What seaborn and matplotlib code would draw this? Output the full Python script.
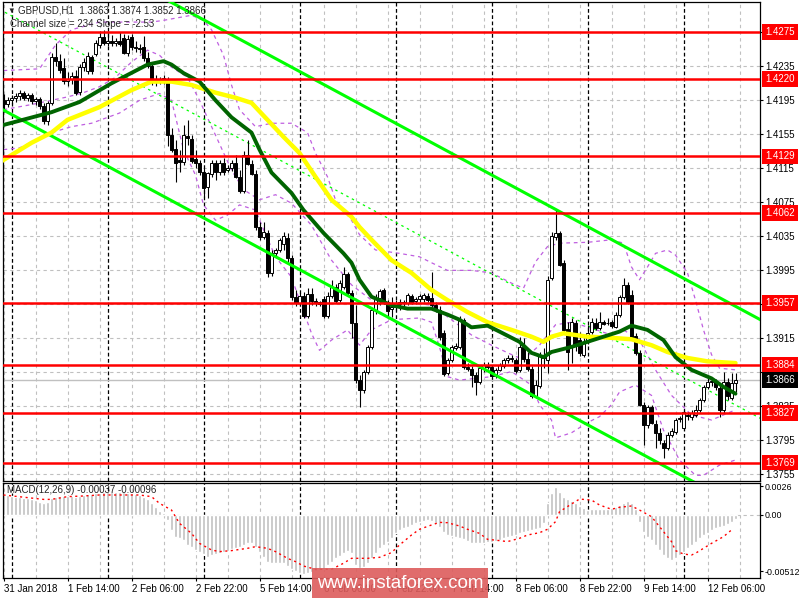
import numpy as np
import pandas as pd
import matplotlib
matplotlib.use("Agg")
import matplotlib.pyplot as plt
import matplotlib.transforms as mtransforms
from matplotlib.patches import Rectangle
import seaborn as sns

sns.set_style("white")
plt.rcParams["font.family"] = ["Liberation Sans", "DejaVu Sans"]
plt.rcParams["font.size"] = 7
plt.rcParams["axes.unicode_minus"] = False

# GBPUSD H1, bar 0 = 1 Feb 2018 00:00 (weekend hours skipped), first bar = 31 Jan 22:00
FIRST_BAR = -2
OPEN = [1.4195, 1.4191, 1.4195, 1.4198, 1.4200, 1.4204, 1.4198, 1.4201, 1.4194, 1.4197, 1.4188, 1.4171,
        1.4192, 1.4246, 1.4241, 1.4233, 1.4218, 1.4220, 1.4224, 1.4205, 1.4234, 1.4230,
        1.4246, 1.4250, 1.4260, 1.4269, 1.4262, 1.4265, 1.4262, 1.4265, 1.4268, 1.4251,
        1.4269, 1.4258, 1.4257, 1.4258, 1.4245, 1.4235, 1.4217, 1.4219, 1.4219, 1.4220,
        1.4154, 1.4138, 1.4125, 1.4122, 1.4153, 1.4150, 1.4126, 1.4121, 1.4111, 1.4093,
        1.4108, 1.4121, 1.4111, 1.4121, 1.4113, 1.4115, 1.4121, 1.4105, 1.4088, 1.4131,
        1.4120, 1.4108, 1.4046, 1.4034, 1.4039, 1.3992, 1.4016, 1.4019, 1.4026, 1.4033,
        1.4010, 1.3964, 1.3957, 1.3965, 1.3941, 1.3967, 1.3959, 1.3956, 1.3961, 1.3941,
        1.3965, 1.3976, 1.3960, 1.3976, 1.3991, 1.3968, 1.3933, 1.3866, 1.3854, 1.3876,
        1.3905, 1.3948, 1.3963, 1.3972, 1.3958, 1.3950, 1.3952, 1.3956, 1.3958, 1.3957,
        1.3965, 1.3959, 1.3961, 1.3961, 1.3965, 1.3963, 1.3954, 1.3948, 1.3921, 1.3874,
        1.3890, 1.3904, 1.3905, 1.3937, 1.3881, 1.3879, 1.3872, 1.3864, 1.3880, 1.3883,
        1.3881, 1.3871, 1.3878, 1.3883, 1.3890, 1.3891, 1.3890, 1.3878, 1.3905, 1.3891,
        1.3879, 1.3847, 1.3859, 1.3896, 1.3890, 1.3986, 1.4034, 1.4039, 1.4004, 1.3926,
        1.3905, 1.3933, 1.3913, 1.3896, 1.3911, 1.3923, 1.3933, 1.3927, 1.3934, 1.3933,
        1.3934, 1.3928, 1.3943, 1.3964, 1.3978, 1.3966, 1.3918, 1.3898, 1.3837, 1.3813,
        1.3834, 1.3814, 1.3804, 1.3792, 1.3786, 1.3801, 1.3805, 1.3820, 1.3810, 1.3825,
        1.3823, 1.3825, 1.3831, 1.3843, 1.3858, 1.3864, 1.3865, 1.3857, 1.3831, 1.3864,
        1.3845, 1.3863]
HIGH = [1.4202, 1.4199, 1.4201, 1.4204, 1.4207, 1.4206, 1.4204, 1.4204, 1.4199, 1.4199, 1.4192, 1.4194,
        1.4251, 1.4262, 1.4250, 1.4245, 1.4228, 1.4228, 1.4231, 1.4238, 1.4245, 1.4252,
        1.4248, 1.4266, 1.4277, 1.4278, 1.4277, 1.4272, 1.4268, 1.4275, 1.4273, 1.4272,
        1.4273, 1.4265, 1.4261, 1.4271, 1.4252, 1.4240, 1.4225, 1.4222, 1.4225, 1.4222,
        1.4162, 1.4148, 1.4137, 1.4166, 1.4172, 1.4154, 1.4137, 1.4125, 1.4115, 1.4111,
        1.4125, 1.4125, 1.4125, 1.4127, 1.4119, 1.4125, 1.4131, 1.4113, 1.4135, 1.4148,
        1.4125, 1.4113, 1.4052, 1.4052, 1.4043, 1.4019, 1.4021, 1.4033, 1.4040, 1.4039,
        1.4013, 1.3972, 1.3968, 1.3970, 1.3974, 1.3974, 1.3963, 1.3959, 1.3965, 1.3970,
        1.3984, 1.3979, 1.3984, 1.3999, 1.3993, 1.3972, 1.3954, 1.3872, 1.3878, 1.3907,
        1.3951, 1.3967, 1.3973, 1.3974, 1.3960, 1.3964, 1.3960, 1.3961, 1.3960, 1.3968,
        1.3967, 1.3964, 1.3967, 1.3968, 1.3968, 1.3993, 1.3958, 1.3953, 1.3925, 1.3892,
        1.3907, 1.3910, 1.3941, 1.3939, 1.3886, 1.3883, 1.3876, 1.3883, 1.3887, 1.3887,
        1.3884, 1.3880, 1.3886, 1.3892, 1.3896, 1.3896, 1.3892, 1.3917, 1.3916, 1.3899,
        1.3883, 1.3866, 1.3899, 1.3904, 1.3988, 1.4040, 1.4066, 1.4041, 1.4007, 1.3934,
        1.3939, 1.3937, 1.3923, 1.3916, 1.3931, 1.3939, 1.3939, 1.3946, 1.3937, 1.3939,
        1.3937, 1.3946, 1.3966, 1.3986, 1.3981, 1.3972, 1.3921, 1.3901, 1.3840, 1.3837,
        1.3837, 1.3819, 1.3810, 1.3796, 1.3805, 1.3810, 1.3821, 1.3824, 1.3831, 1.3828,
        1.3831, 1.3837, 1.3845, 1.3860, 1.3868, 1.3868, 1.3867, 1.3860, 1.3876, 1.3868,
        1.3874, 1.3874]
LOW = [1.4181, 1.4187, 1.4191, 1.4193, 1.4195, 1.4195, 1.4194, 1.4191, 1.4190, 1.4185, 1.4167, 1.4166,
       1.4190, 1.4235, 1.4227, 1.4214, 1.4212, 1.4214, 1.4201, 1.4201, 1.4230, 1.4226,
       1.4226, 1.4247, 1.4257, 1.4260, 1.4259, 1.4259, 1.4259, 1.4259, 1.4250, 1.4247,
       1.4254, 1.4252, 1.4251, 1.4241, 1.4233, 1.4213, 1.4212, 1.4214, 1.4214, 1.4141,
       1.4134, 1.4099, 1.4111, 1.4119, 1.4142, 1.4121, 1.4115, 1.4107, 1.4081, 1.4080,
       1.4105, 1.4101, 1.4107, 1.4107, 1.4111, 1.4112, 1.4104, 1.4086, 1.4086, 1.4119,
       1.4107, 1.4043, 1.4031, 1.4032, 1.3987, 1.3988, 1.4012, 1.4017, 1.4019, 1.4005,
       1.3960, 1.3953, 1.3953, 1.3939, 1.3939, 1.3954, 1.3953, 1.3953, 1.3939, 1.3939,
       1.3963, 1.3957, 1.3958, 1.3973, 1.3966, 1.3916, 1.3863, 1.3834, 1.3851, 1.3873,
       1.3903, 1.3944, 1.3954, 1.3956, 1.3940, 1.3940, 1.3947, 1.3948, 1.3953, 1.3954,
       1.3956, 1.3956, 1.3958, 1.3958, 1.3958, 1.3952, 1.3946, 1.3913, 1.3871, 1.3872,
       1.3887, 1.3901, 1.3903, 1.3879, 1.3877, 1.3858, 1.3848, 1.3861, 1.3876, 1.3879,
       1.3868, 1.3868, 1.3877, 1.3880, 1.3886, 1.3887, 1.3874, 1.3876, 1.3887, 1.3877,
       1.3845, 1.3845, 1.3857, 1.3880, 1.3874, 1.3984, 1.4031, 1.4000, 1.3924, 1.3878,
       1.3886, 1.3900, 1.3894, 1.3893, 1.3908, 1.3920, 1.3925, 1.3925, 1.3931, 1.3931,
       1.3927, 1.3927, 1.3940, 1.3961, 1.3956, 1.3913, 1.3896, 1.3836, 1.3790, 1.3810,
       1.3814, 1.3786, 1.3791, 1.3774, 1.3784, 1.3799, 1.3803, 1.3817, 1.3807, 1.3819,
       1.3819, 1.3823, 1.3828, 1.3840, 1.3856, 1.3859, 1.3854, 1.3823, 1.3827, 1.3843,
       1.3843, 1.3852]
CLOSE = [1.4191, 1.4195, 1.4198, 1.4200, 1.4204, 1.4198, 1.4201, 1.4194, 1.4197, 1.4188, 1.4171, 1.4192,
         1.4246, 1.4241, 1.4231, 1.4218, 1.4220, 1.4224, 1.4204, 1.4234, 1.4240, 1.4247,
         1.4230, 1.4262, 1.4269, 1.4262, 1.4265, 1.4262, 1.4265, 1.4261, 1.4251, 1.4267,
         1.4258, 1.4257, 1.4255, 1.4245, 1.4235, 1.4217, 1.4220, 1.4220, 1.4221, 1.4154,
         1.4137, 1.4121, 1.4122, 1.4154, 1.4151, 1.4124, 1.4121, 1.4111, 1.4092, 1.4110,
         1.4121, 1.4111, 1.4121, 1.4111, 1.4115, 1.4121, 1.4105, 1.4088, 1.4131, 1.4120,
         1.4108, 1.4046, 1.4034, 1.4040, 1.3992, 1.4016, 1.4019, 1.4031, 1.4035, 1.4010,
         1.3964, 1.3957, 1.3965, 1.3941, 1.3967, 1.3959, 1.3957, 1.3958, 1.3941, 1.3965,
         1.3976, 1.3959, 1.3980, 1.3991, 1.3968, 1.3933, 1.3866, 1.3854, 1.3876, 1.3905,
         1.3948, 1.3963, 1.3971, 1.3958, 1.3947, 1.3952, 1.3957, 1.3958, 1.3957, 1.3966,
         1.3958, 1.3961, 1.3965, 1.3966, 1.3960, 1.3954, 1.3948, 1.3917, 1.3873, 1.3890,
         1.3905, 1.3906, 1.3937, 1.3881, 1.3879, 1.3872, 1.3864, 1.3880, 1.3884, 1.3881,
         1.3871, 1.3878, 1.3884, 1.3890, 1.3892, 1.3892, 1.3877, 1.3905, 1.3891, 1.3879,
         1.3847, 1.3860, 1.3896, 1.3892, 1.3984, 1.4035, 1.4039, 1.4001, 1.3925, 1.3899,
         1.3934, 1.3907, 1.3898, 1.3911, 1.3921, 1.3934, 1.3927, 1.3934, 1.3932, 1.3933,
         1.3930, 1.3943, 1.3964, 1.3978, 1.3958, 1.3916, 1.3898, 1.3837, 1.3813, 1.3834,
         1.3816, 1.3804, 1.3796, 1.3786, 1.3801, 1.3806, 1.3819, 1.3821, 1.3828, 1.3824,
         1.3827, 1.3831, 1.3843, 1.3858, 1.3864, 1.3865, 1.3858, 1.3831, 1.3864, 1.3847,
         1.3863, 1.3866]

# moving averages (read at sparse bars)
GREEN_BARS = [-2, 10, 17, 25, 34, 38, 40, 43, 47, 51, 55, 60, 62, 65, 70, 73, 78, 83, 85, 87,
              90, 95, 99, 105, 109, 112, 115, 119, 122, 127, 130, 133, 135, 140, 144, 148, 152,
              155, 159, 163, 166, 170, 175, 178, 181]
GREEN_VALS = [1.4166, 1.4181, 1.4193, 1.4215, 1.4237, 1.4241, 1.4237, 1.4227, 1.4217, 1.4195,
              1.4175, 1.4157, 1.4137, 1.4110, 1.4086, 1.4066, 1.4039, 1.4015, 1.4004, 1.3984,
              1.3964, 1.3954, 1.3950, 1.3950, 1.3943, 1.3937, 1.3928, 1.3930, 1.3923, 1.3911,
              1.3898, 1.3893, 1.3899, 1.3905, 1.3911, 1.3917, 1.3923, 1.3930, 1.3925, 1.3913,
              1.3893, 1.3878, 1.3868, 1.3858, 1.3850]
YELLOW_BARS = [-3, 5, 10, 14, 22, 30, 35, 40, 45, 51, 56, 60, 64, 68, 72, 76, 80, 85, 87, 90,
               95, 100, 105, 109, 114, 119, 125, 130, 133, 135, 138, 144, 149, 155, 160, 164,
               169, 174, 181]
YELLOW_VALS = [1.4122, 1.4145, 1.4157, 1.4172, 1.4187, 1.4207, 1.4217, 1.4217, 1.4213, 1.4204,
               1.4198, 1.4192, 1.4172, 1.4152, 1.4133, 1.4105, 1.4078, 1.4058, 1.4046, 1.4031,
               1.4007, 1.3992, 1.3972, 1.3960, 1.3946, 1.3934, 1.3925, 1.3917, 1.3911, 1.3917,
               1.3921, 1.3917, 1.3916, 1.3914, 1.3907, 1.3899, 1.3892, 1.3888, 1.3886]

# bollinger-style purple bands
UP_BARS = [-2, 7, 11, 15, 22, 30, 35, 38, 45, 48, 50, 53, 55, 57, 61, 65, 70, 74, 76, 79,
           81, 85, 87, 91, 97, 102, 105, 109, 115, 120, 125, 128, 131, 134, 137, 144, 150,
           153, 155, 157, 159, 161, 164, 166, 169, 171, 173, 175, 177, 181]
UP_VALS = [1.4230, 1.4232, 1.4260, 1.4278, 1.4287, 1.4287, 1.4287, 1.4289, 1.4295, 1.4289,
           1.4278, 1.4248, 1.4213, 1.4184, 1.4164, 1.4168, 1.4168, 1.4157, 1.4133, 1.4105,
           1.4078, 1.4054, 1.4037, 1.4019, 1.4015, 1.4011, 1.4004, 1.3995, 1.3995, 1.3992,
           1.3980, 1.3974, 1.4005, 1.4023, 1.4027, 1.4028, 1.4031, 1.4027, 1.3999, 1.3984,
           1.3999, 1.4015, 1.4019, 1.4013, 1.3992, 1.3960, 1.3925, 1.3896, 1.3880, 1.3878]
MID_BARS = [-2, 5, 10, 14, 18, 22, 26, 30, 34, 37, 40, 44, 47, 51, 55, 58, 62, 66, 70, 75,
            80, 85, 90, 95, 100, 105, 110, 115, 120, 125, 128, 132, 136, 140, 145, 150, 153,
            157, 161, 165, 170, 175, 181]
MID_VALS = [1.4184, 1.4190, 1.4195, 1.4199, 1.4204, 1.4211, 1.4222, 1.4240, 1.4254, 1.4248,
            1.4234, 1.4222, 1.4195, 1.4154, 1.4113, 1.4090, 1.4078, 1.4084, 1.4074, 1.4048,
            1.4007, 1.3978, 1.3960, 1.3954, 1.3957, 1.3954, 1.3937, 1.3919, 1.3907, 1.3896,
            1.3890, 1.3907, 1.3931, 1.3934, 1.3927, 1.3919, 1.3925, 1.3913, 1.3878, 1.3848,
            1.3825, 1.3819, 1.3831]
LO_BARS = [-2, 2, 10, 15, 20, 27, 32, 37, 40, 43, 46, 48, 51, 54, 57, 61, 63, 66, 70, 72,
           75, 77, 80, 84, 87, 90, 95, 102, 105, 107, 109, 112, 120, 125, 130, 132, 135, 136,
           140, 144, 147, 150, 152, 156, 160, 163, 167, 171, 173, 177, 181]
LO_VALS = [1.4137, 1.4139, 1.4157, 1.4164, 1.4168, 1.4180, 1.4195, 1.4203, 1.4195, 1.4137,
           1.4107, 1.4072, 1.4054, 1.4060, 1.4072, 1.4066, 1.4043, 1.4011, 1.3987, 1.3960,
           1.3921, 1.3901, 1.3913, 1.3925, 1.3907, 1.3925, 1.3937, 1.3939, 1.3934, 1.3905,
           1.3870, 1.3866, 1.3870, 1.3876, 1.3860, 1.3837, 1.3819, 1.3798, 1.3804, 1.3816,
           1.3823, 1.3837, 1.3852, 1.3860, 1.3848, 1.3807, 1.3772, 1.3754, 1.3754, 1.3766,
           1.3772]

# regression channel (size 234, slope -2.53)
CH_BARS = [-3, 188]
CH_UPPER = [1.4419, 1.3935]
CH_MID = [1.4302, 1.3819]
CH_LOWER = [1.4186, 1.3702]

LEVELS = [1.4275, 1.4220, 1.4129, 1.4062, 1.3957, 1.3884, 1.3827, 1.3769]
LAST_PRICE = 1.3866
PRICE_TICKS = [1.4275, 1.4235, 1.4195, 1.4155, 1.4115, 1.4075, 1.4035, 1.3995, 1.3955,
               1.3915, 1.3875, 1.3835, 1.3795, 1.3755]

MACD_HIST = [0.00182, 0.00182, 0.00173, 0.00167, 0.00161, 0.00152, 0.00152, 0.00142, 0.00136, 0.00121, 0.00106, 0.00121,
             0.00152, 0.00167, 0.00173, 0.00173, 0.00173, 0.00173, 0.00167, 0.00173, 0.00182, 0.00188,
             0.00191, 0.00197, 0.00203, 0.00206, 0.00206, 0.00209, 0.00209, 0.00209, 0.00206, 0.00203,
             0.00197, 0.00191, 0.00182, 0.00167, 0.00142, 0.00106, 0.00076, 0.00039, 0.00021, -0.00045,
             -0.00136, -0.00197, -0.00212, -0.00227, -0.00273, -0.00288, -0.00318, -0.00333, -0.00355, -0.00379,
             -0.00364, -0.00355, -0.00348, -0.00333, -0.00324, -0.00312, -0.00303, -0.00288, -0.00273, -0.00258,
             -0.00258, -0.00288, -0.00333, -0.00379, -0.00424, -0.00439, -0.00439, -0.00433, -0.00439, -0.00464,
             -0.00494, -0.00506, -0.00530, -0.00536, -0.00524, -0.00515, -0.00506, -0.00500, -0.00494, -0.00455,
             -0.00424, -0.00394, -0.00373, -0.00342, -0.00324, -0.00348, -0.00455, -0.00485, -0.00476, -0.00439,
             -0.00394, -0.00348, -0.00303, -0.00273, -0.00242, -0.00212, -0.00167, -0.00136, -0.00121, -0.00106,
             -0.00091, -0.00076, -0.00061, -0.00052, -0.00045, -0.00052, -0.00070, -0.00106, -0.00152, -0.00182,
             -0.00191, -0.00197, -0.00212, -0.00221, -0.00233, -0.00252, -0.00258, -0.00258, -0.00252, -0.00242,
             -0.00242, -0.00236, -0.00227, -0.00212, -0.00203, -0.00191, -0.00182, -0.00167, -0.00152, -0.00142,
             -0.00136, -0.00130, -0.00121, -0.00076, 0.00106, 0.00203, 0.00252, 0.00212, 0.00167, 0.00142,
             0.00130, 0.00112, 0.00082, 0.00061, 0.00045, 0.00052, 0.00058, 0.00058, 0.00058, 0.00058,
             0.00061, 0.00070, 0.00091, 0.00112, 0.00124, 0.00112, 0.00052, -0.00061, -0.00152, -0.00197,
             -0.00227, -0.00273, -0.00318, -0.00364, -0.00394, -0.00409, -0.00394, -0.00364, -0.00333, -0.00303,
             -0.00273, -0.00242, -0.00212, -0.00182, -0.00161, -0.00136, -0.00121, -0.00106, -0.00100, -0.00082,
             -0.00061, -0.00039]
SIG_BARS = [-2, 8, 10, 14, 18, 22, 32, 35, 37, 40, 42, 45, 47, 50, 52, 55, 59, 61, 64, 66,
            69, 71, 73, 76, 80, 83, 85, 89, 92, 95, 97, 100, 102, 105, 107, 109, 112, 114, 117,
            119, 122, 124, 127, 129, 132, 134, 136, 137, 140, 142, 145, 147, 150, 152, 155, 157,
            160, 162, 165, 166, 168, 170, 171, 173, 175, 178, 180]
SIG_VALS = [0.00182, 0.00142, 0.00142, 0.00167, 0.00173, 0.00182, 0.00182, 0.00167, 0.00106, 0.00045,
            -0.00076, -0.00167, -0.00258, -0.00318, -0.00333, -0.00324, -0.00303, -0.00288, -0.00303, -0.00333,
            -0.00394, -0.00424, -0.00464, -0.00494, -0.00494, -0.00439, -0.00394, -0.00394, -0.00385, -0.00342,
            -0.00273, -0.00182, -0.00130, -0.00091, -0.00067, -0.00070, -0.00100, -0.00130, -0.00167, -0.00221,
            -0.00233, -0.00242, -0.00212, -0.00182, -0.00161, -0.00130, -0.00061, 0.00030, 0.00100, 0.00145,
            0.00136, 0.00091, 0.00052, 0.00070, 0.00082, 0.00045, -0.00015, -0.00106, -0.00242, -0.00324,
            -0.00355, -0.00364, -0.00348, -0.00303, -0.00258, -0.00197, -0.00136]

LABEL_BARS = [-2, 14, 30, 46, 62, 78, 94, 110, 126, 142, 158, 174]
LABELS = ["31 Jan 2018", "1 Feb 14:00", "2 Feb 06:00", "2 Feb 22:00", "5 Feb 14:00",
          "6 Feb 06:00", "6 Feb 22:00", "7 Feb 14:00", "8 Feb 06:00", "8 Feb 22:00",
          "9 Feb 14:00", "12 Feb 06:00"]
DAY_STARTS = [0, 24, 48, 72, 96, 120, 144, 168]

bars = np.arange(FIRST_BAR, FIRST_BAR + len(CLOSE))
df = pd.DataFrame({"bar": bars, "open": OPEN, "high": HIGH, "low": LOW, "close": CLOSE})
df["top"] = df[["open", "close"]].max(axis=1)
df["bottom"] = df[["open", "close"]].min(axis=1)
df["high"] = df[["high", "top"]].max(axis=1)
df["low"] = df[["low", "bottom"]].min(axis=1)
df["body"] = (df["top"] - df["bottom"]).clip(lower=0.00003)
bull = df["close"] >= df["open"]

W, H = 800, 600
def box(x0, y0, x1, y1):
    return [x0 / W, 1 - y1 / H, (x1 - x0) / W, (y1 - y0) / H]

fig = plt.figure(figsize=(8, 6), dpi=100)
ax = fig.add_axes(box(3, 2, 760, 480.5))
ax2 = fig.add_axes(box(3, 483, 760, 578))
xlim = (-2.125, 187.125)

grid_kw = dict(color="#c0c0c0", lw=0.8, ls=(0, (3, 3)), zorder=0)
for a in (ax, ax2):
    for b in range(-2, 188, 8):
        a.axvline(b, **grid_kw)
    for b in DAY_STARTS:
        a.axvline(b, color="black", lw=0.9, ls=(0, (3, 2)), zorder=1)
    a.set_xlim(*xlim)
    for s in a.spines.values():
        s.set_color("black")
        s.set_linewidth(0.9)

for t in PRICE_TICKS:
    ax.axhline(t, **grid_kw)
ax.axhline(LAST_PRICE, color="#c0c0c0", lw=1.0, zorder=1)

# bands and channel
purple = "#bf5fe0"
for bx, by in ((UP_BARS, UP_VALS), (MID_BARS, MID_VALS), (LO_BARS, LO_VALS)):
    sns.lineplot(x=bx, y=by, ax=ax, color=purple, lw=0.9, linestyle=(0, (3, 3)),
                 estimator=None, sort=False, zorder=2)
sns.lineplot(x=CH_BARS, y=CH_MID, ax=ax, color="#00ff00", lw=0.9, linestyle=(0, (2, 3)),
             estimator=None, sort=False, zorder=2)

# candles
ax.vlines(df["bar"], df["low"], df["high"], color="black", lw=0.8, zorder=3)
ax.bar(df["bar"], df["body"], bottom=df["bottom"], width=0.72,
       color=np.where(bull, "white", "black"), edgecolor="black", linewidth=0.7, zorder=3.5)

sns.lineplot(x=CH_BARS, y=CH_UPPER, ax=ax, color="#00ff00", lw=2.2, estimator=None, sort=False, zorder=4)
sns.lineplot(x=CH_BARS, y=CH_LOWER, ax=ax, color="#00ff00", lw=2.2, estimator=None, sort=False, zorder=4)
sns.lineplot(x=YELLOW_BARS, y=YELLOW_VALS, ax=ax, color="#ffff00", lw=3.2, estimator=None, sort=False, zorder=4)
sns.lineplot(x=GREEN_BARS, y=GREEN_VALS, ax=ax, color="#006400", lw=2.8, estimator=None, sort=False, zorder=4.5)

for lv in LEVELS:
    ax.axhline(lv, color="red", lw=1.8, zorder=5)

ax.set_ylim(1.37479, 1.43106)
ax.set_xticks([])
ax.yaxis.tick_right()
ax.set_yticks(PRICE_TICKS)
ax.set_yticklabels([f"{t:.4f}" for t in PRICE_TICKS])
ax.tick_params(axis="y", right=True, left=False, direction="out", length=2.5, width=0.8,
               pad=1.5, labelsize=7, colors="black")
ax.set_xlabel("")
ax.set_ylabel("")

trans = mtransforms.blended_transform_factory(ax.transAxes, ax.transData)
for lv in LEVELS:
    ax.text(1.0068, lv, f"{lv:.4f}", transform=trans, color="white", fontsize=7, va="center",
            ha="left", clip_on=False, zorder=10,
            bbox=dict(boxstyle="square,pad=0.3", fc="red", ec="none"))
ax.text(1.0068, LAST_PRICE, f"{LAST_PRICE:.4f}", transform=trans, color="white", fontsize=7,
        va="center", ha="left", clip_on=False, zorder=10,
        bbox=dict(boxstyle="square,pad=0.3", fc="black", ec="none"))

# MACD panel
ax2.axhline(0, **grid_kw)
ax2.bar(bars, MACD_HIST, width=0.75, color="#c0c0c0", zorder=2)
sns.lineplot(x=SIG_BARS, y=SIG_VALS, ax=ax2, color="red", lw=1.0, linestyle=(0, (1.5, 2.5)),
             estimator=None, sort=False, zorder=3)
ax2.set_ylim(-0.00573, 0.00291)
ax2.yaxis.tick_right()
ax2.set_yticks([0.0026, 0.0, -0.00512])
ax2.set_yticklabels(["0.0026", "0.00", "-0.00512"])
ax2.tick_params(axis="y", right=True, left=False, direction="out", length=2.5, width=0.8,
                pad=1.0, labelsize=6.4, colors="black")
ax2.set_xticks(LABEL_BARS)
ax2.set_xticklabels(LABELS, ha="left")
ax2.tick_params(axis="x", bottom=True, direction="out", length=2.5, width=0.8, pad=2,
                labelsize=7, colors="black")
ax2.set_xlabel("")
ax2.set_ylabel("")

# header texts
fig.text(7 / W, 1 - 11 / H, "\u25bc", fontsize=5.5, va="center", ha="left")
fig.text(18 / W, 1 - 10.5 / H, "GBPUSD,H1  1.3863 1.3874 1.3852 1.3866", fontsize=7, va="center")
fig.text(10 / W, 1 - 24 / H, "Channel size = 234 Slope = -2.53", fontsize=7, va="center")
fig.text(7 / W, 1 - 490 / H, "MACD(12,26,9) -0.00037 -0.00096", fontsize=7, va="center")

# watermark
fig.patches.append(Rectangle((312 / W, 2 / H), 176 / W, 30 / H, transform=fig.transFigure,
                             fc="#dd5c5c", alpha=0.9, ec="none", zorder=20))
fig.text(400 / W, 1 - 583 / H, "www.instaforex.com", color="white", fontsize=13.5,
         ha="center", va="center", zorder=21)

fig.savefig("out.png", dpi=100)
